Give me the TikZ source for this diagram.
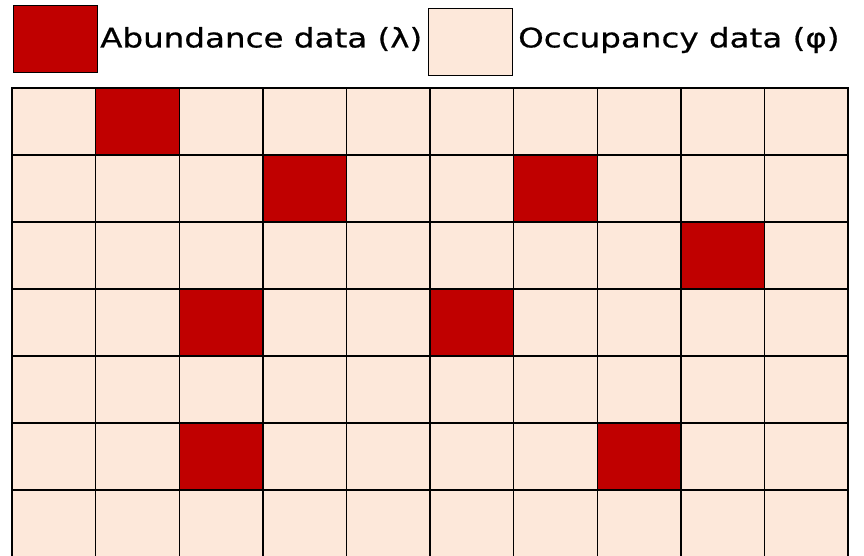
\documentclass[tikz,border=0pt]{standalone}
\usepackage{fontspec}
\setmainfont{DejaVu Sans}
\newfontfamily\legendfont[FakeStretch=1.21,FakeBold=0.6]{DejaVu Sans}
\definecolor{abund}{HTML}{C00000}
\definecolor{occup}{HTML}{FDE8DA}

\begin{document}
\begin{tikzpicture}[x=1bp,y=-1bp,
    cell/.style={draw=black,line width=1.4bp,fill=occup,minimum width=83.6bp,
      minimum height=67bp,inner sep=0pt,outer sep=0pt,anchor=north west},
    abcell/.style={cell,fill=abund},
    key/.style={draw=black,line width=1.2bp,minimum width=84bp,minimum height=67bp,
      inner sep=0pt,anchor=north west},
    keytext/.style={font=\legendfont\fontsize{27}{31}\selectfont,inner sep=0pt,anchor=west},
  ]
  \useasboundingbox (0,0) rectangle (864,556);
  \clip (0,0) rectangle (864,556);
  % legend
  \node[key,fill=abund] (abkey) at (13,5) {};
  \node[keytext] (abtext) at (100,39) {Abundance data (λ)};
  \node[key,fill=occup] (occkey) at (428,8) {};
  \node[keytext] (occtext) at (518,40) {Occupancy data (φ)};
  % survey grid, 10 x 7 sites
  \foreach \r in {0,...,6}
    \foreach \c in {0,...,9}
      \node[cell] (s-\r-\c) at (12+83.6*\c, 88+67*\r) {};
  % sites with abundance data
  \foreach \r/\c in {0/1,1/3,1/6,2/8,3/2,3/5,5/2,5/7}
    \node[abcell] (a-\r-\c) at (12+83.6*\c, 88+67*\r) {};
\end{tikzpicture}
\end{document}
